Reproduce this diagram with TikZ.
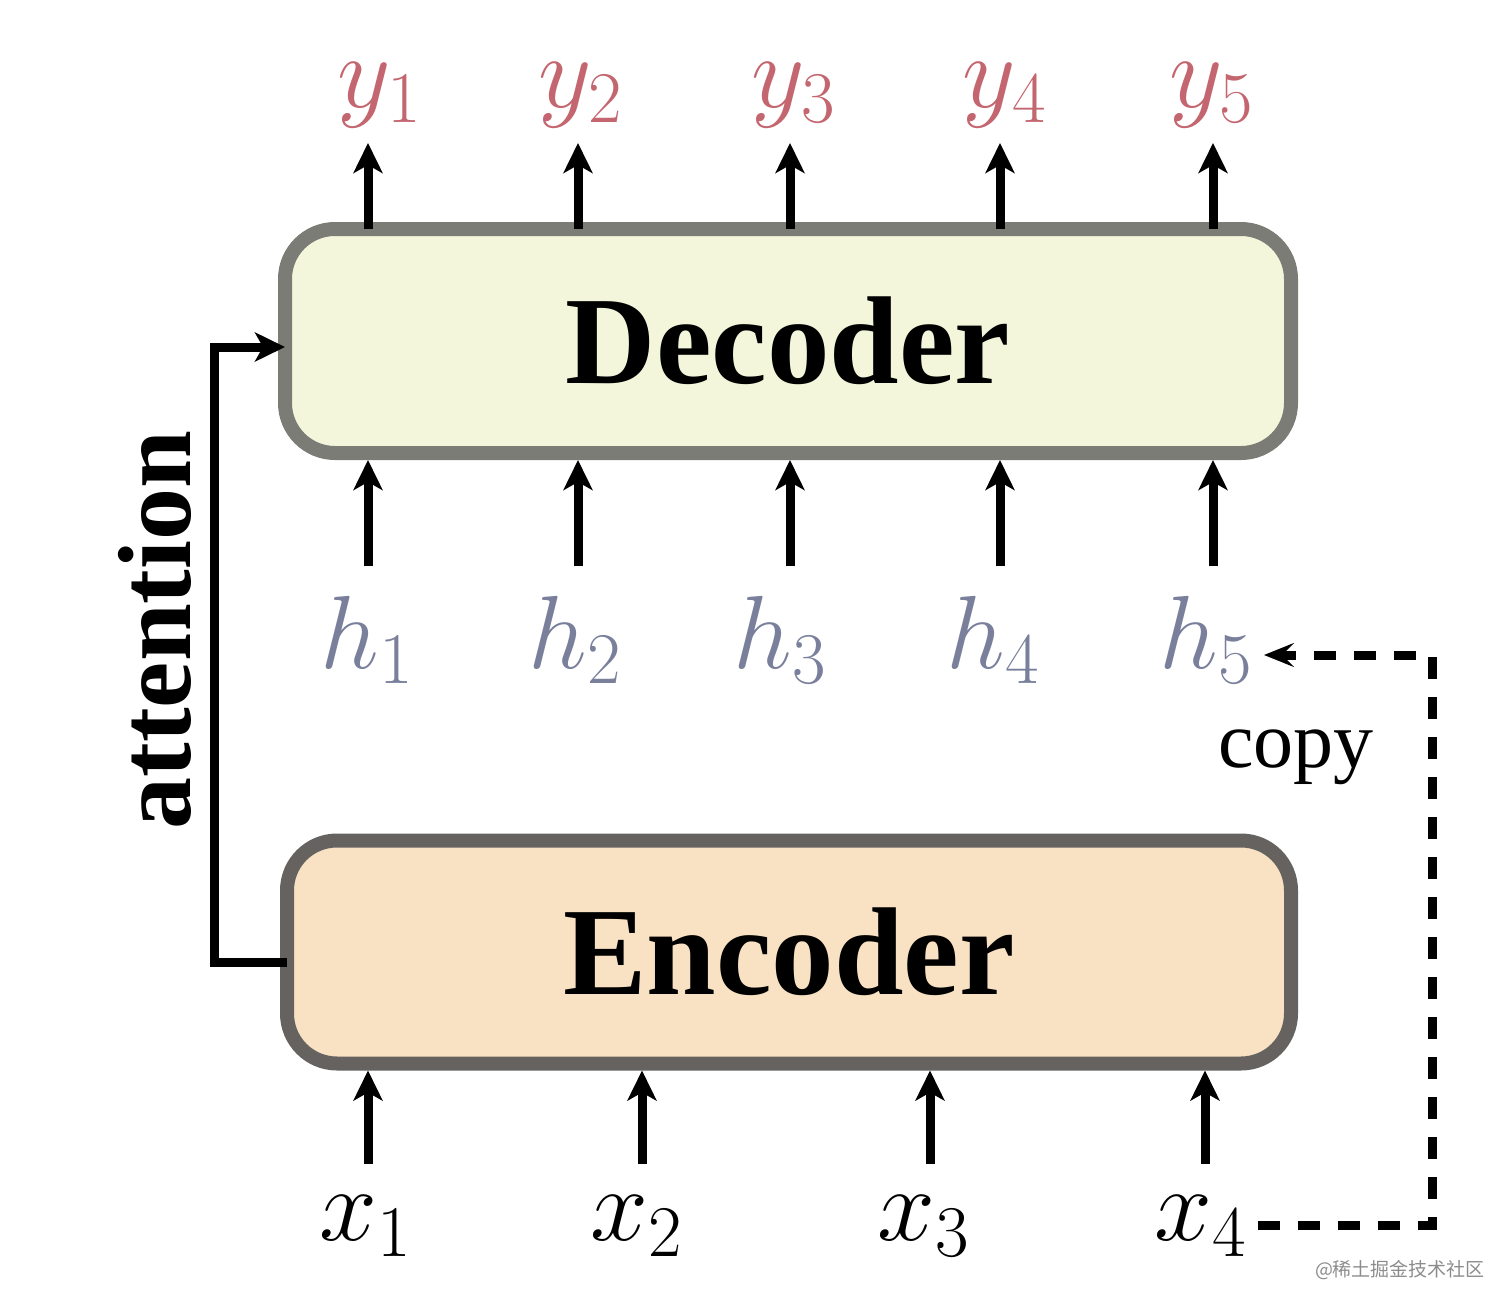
\documentclass[tikz,border=0pt]{standalone}
\usepackage{fix-cm}
\usepackage{fontspec}
\setmainfont{Liberation Serif}
\newfontfamily\cjk{Noto Sans CJK SC}
\usetikzlibrary{arrows.meta}
\definecolor{ycol}{HTML}{C4666F}
\definecolor{hcol}{HTML}{7A809C}
\definecolor{decfill}{HTML}{F3F6DB}
\definecolor{decdraw}{HTML}{7C7C76}
\definecolor{encfill}{HTML}{F8E2C3}
\definecolor{encdraw}{HTML}{65625F}
\begin{document}
\begin{tikzpicture}[x=0.5pt,y=-0.5pt,
  box/.style={rounded corners=25pt, line width=7pt, inner sep=0pt, outer sep=0pt,
    font=\fontsize{62.5}{70}\selectfont\bfseries},
  arr/.style={line width=4.5pt, -{Stealth[length=15pt,width=14.5pt,inset=4pt]}},
  dasharr/.style={line width=4.5pt, dash pattern=on 11pt off 9pt,
    -{Stealth[length=15pt,width=12pt,inset=6pt]}},
  lab/.style={font=\fontsize{52}{56}\selectfont, inner sep=2pt},
  ylab/.style={lab, text=ycol},
  hlab/.style={lab, text=hcol},
  xlab/.style={lab, text=black}]
\useasboundingbox (0,0) rectangle (1512,1312);
% boxes
\node[box, draw=decdraw, fill=decfill, minimum width=503pt, minimum height=112pt] (dec) at (788,341) {Decoder};
\node[box, draw=encdraw, fill=encfill, minimum width=502pt, minimum height=111.5pt] (enc) at (789,952) {Encoder};
% y labels
\node[ylab] (y1) at (380,95) {$y_1$};
\node[ylab] (y2) at (581,95) {$y_2$};
\node[ylab] (y3) at (794,95) {$y_3$};
\node[ylab] (y4) at (1005,95) {$y_4$};
\node[ylab] (y5) at (1212,95) {$y_5$};
% h labels
\node[hlab] (h1) at (367,640) {$h_1$};
\node[hlab] (h2) at (575,640) {$h_2$};
\node[hlab] (h3) at (780,640) {$h_3$};
\node[hlab] (h4) at (993,640) {$h_4$};
\node[hlab] (h5) at (1206,640) {$h_5$};
% x labels
\node[xlab] (x1) at (366,1226) {$x_1$};
\node[xlab] (x2) at (637,1226) {$x_2$};
\node[xlab] (x3) at (924,1226) {$x_3$};
\node[xlab] (x4) at (1201,1226) {$x_4$};
% arrow ends
\foreach \i/\xx in {1/368,2/578,3/790,4/1000,5/1213}{
  \coordinate (ya\i) at (\xx,143);
  \coordinate (hb\i) at (\xx,566);
  \draw[arr] (dec.north -| ya\i) -- (ya\i);
  \draw[arr, shorten >=3.5pt] (hb\i) -- (hb\i |- dec.south);
}
\foreach \i/\xx in {1/368,2/642,3/930,4/1205}{
  \coordinate (xb\i) at (\xx,1164);
  \draw[arr, shorten >=3.5pt] (xb\i) -- (xb\i |- enc.south);
}
% attention
\node[rotate=90, font=\fontsize{52}{56}\selectfont\bfseries] (att) at (155,630) {attention};
\coordinate (attx) at (214,650);
\draw[arr] ([yshift=-5pt]enc.west) -| (attx) |- ([yshift=-3pt]dec.west);
% copy
\node[font=\fontsize{40}{44}\selectfont] (copy) at (1296,757) {copy};
\coordinate (dr1) at (1432,1225);
\coordinate (dr2) at (1432,655);
\coordinate (ds) at (1258,1225);
\coordinate (de) at (1264,655);
\draw[dasharr] (ds) -- (dr1) -- (dr2) -- (de);
% watermark
\node[text=black!45, font=\cjk\fontsize{9.5}{10}\selectfont] (wm) at (1400,1270) {@稀土掘金技术社区};
\end{tikzpicture}
\end{document}
